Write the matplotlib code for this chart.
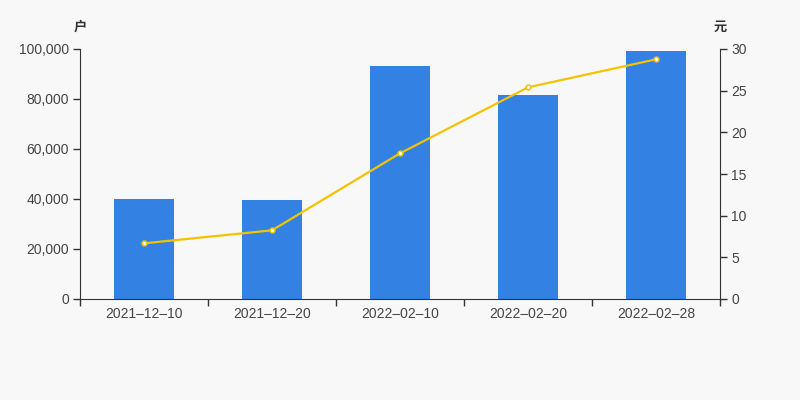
import matplotlib
matplotlib.use("Agg")
import matplotlib.pyplot as plt
from matplotlib.ticker import FuncFormatter, FixedLocator
import numpy as np

plt.rcParams['font.family'] = ['Liberation Sans', 'Noto Sans CJK SC', 'DejaVu Sans']

categories = ["2021-12-10", "2021-12-20", "2022-02-10", "2022-02-20", "2022-02-28"]
holders = [40000, 39500, 93200, 81600, 99200]
price = [6.68, 8.24, 17.48, 25.4, 28.76]
left_ticks = [0, 20000, 40000, 60000, 80000, 100000]
right_ticks = [0, 5, 10, 15, 20, 25, 30]

bg = "#f8f8f8"
bar_color = "#3381e2"
line_color = "#f5c200"
text_color = "#444444"
axis_color = "#333333"

fig = plt.figure(figsize=(8, 4), dpi=100, facecolor=bg)
ax = fig.add_axes([0.1, 0.2525, 0.8, 0.625])
ax.set_facecolor(bg)
x = np.arange(len(categories))
ax.bar(x, holders, width=0.47, color=bar_color, zorder=2)
ax.set_xlim(-0.5, len(categories) - 0.5)
ax.set_ylim(0, 100000)
ax.yaxis.set_major_locator(FixedLocator(left_ticks))
ax.yaxis.set_major_formatter(FuncFormatter(lambda v, p: f"{int(v):,}"))
ax.set_xticks(x)
ax.set_xticklabels([c.replace("-", "\u2013") for c in categories])
ax.xaxis.set_minor_locator(FixedLocator(np.arange(-0.5, len(categories), 1.0)))
ax.tick_params(axis='x', which='major', length=0, pad=6, labelsize=10, labelcolor=text_color)
ax.tick_params(axis='x', which='minor', length=5, width=1, color=axis_color, direction='out')
ax.tick_params(axis='y', length=5, width=1, color=axis_color, labelsize=10, labelcolor=text_color, pad=3)
for s in ['top', 'right']:
    ax.spines[s].set_visible(False)
ax.spines['left'].set_color(axis_color)
ax.spines['bottom'].set_color(axis_color)

ax2 = ax.twinx()
ax2.plot(x, price, color=line_color, lw=1.6, marker='o', markersize=3.5,
         markerfacecolor='white', markeredgecolor=line_color, markeredgewidth=1.1, zorder=3)
ax2.set_ylim(0, 30)
ax2.yaxis.set_major_locator(FixedLocator(right_ticks))
ax2.tick_params(axis='y', length=5, width=1, color=axis_color, labelsize=10, labelcolor=text_color, pad=3)
for s in ['top', 'left', 'bottom']:
    ax2.spines[s].set_visible(False)
ax2.spines['right'].set_color(axis_color)

fig.text(80/800, 1 - 27/400, "户", ha='center', va='center', fontsize=9.5, color=axis_color,
         fontweight='bold', family=['Noto Sans CJK SC', 'DejaVu Sans'])
fig.text(720/800, 1 - 27/400, "元", ha='center', va='center', fontsize=9.5, color=axis_color,
         fontweight='bold', family=['Noto Sans CJK SC', 'DejaVu Sans'])

fig.savefig("out.png", dpi=100, facecolor=bg)
